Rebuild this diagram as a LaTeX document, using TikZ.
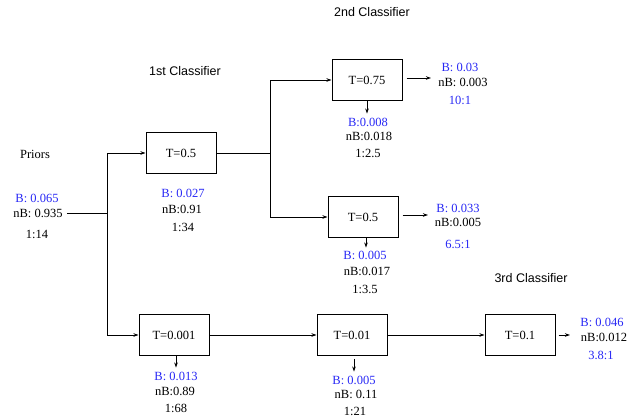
\documentclass[tikz,border=0pt]{standalone}
\usepackage{fontspec}
\setmainfont{Liberation Serif}
\newfontfamily\headfont{Liberation Sans}
\usetikzlibrary{arrows.meta}
\definecolor{lblblue}{RGB}{40,40,245}
\begin{document}
\begin{tikzpicture}[x=1pt,y=-1pt,
  font=\fontsize{12.5}{15}\selectfont,
  box/.style={draw, line width=1pt, minimum width=70pt, minimum height=41pt, inner sep=0pt},
  conn/.style={line width=0.9pt},
  arr/.style={conn, -{Stealth[length=5pt,width=3.5pt]}},
  bl/.style={text=lblblue, inner sep=0pt},
  bk/.style={inner sep=0pt},
  head/.style={font=\headfont\fontsize{12.5}{15}\selectfont, inner sep=0pt}]
\useasboundingbox (0,0) rectangle (635,419);

% headings
\node[head] (h2) at (372,12) {2nd Classifier};
\node[head] (h1) at (185,71) {1st Classifier};
\node[head] (h3) at (531,278) {3rd Classifier};
\node[bk] (pri) at (35,154) {Priors};

% priors
\node[bl] (pB) at (37,198) {B: 0.065};
\node[bk] (pnB) at (38,213) {nB: 0.935};
\node[bk] (pR) at (37,234) {1:14};

% boxes
\node[box] (b1) at (181,153) {T=0.5};
\node[box] (b2) at (367,80) {T=0.75};
\node[box] (b3) at (363,217) {T=0.5};
\node[box] (b4) at (174,335) {T=0.001};
\node[box] (b5) at (352,335) {T=0.01};
\node[box] (b6) at (520,335) {T=0.1};

% b1 labels
\node[bl] (l1B) at (183,193) {B: 0.027};
\node[bk] (l1n) at (182,209) {nB:0.91};
\node[bk] (l1r) at (183,227) {1:34};

% b2 labels
\node[bl] (l2B) at (368,122) {B:0.008};
\node[bk] (l2n) at (369,136) {nB:0.018};
\node[bk] (l2r) at (368,153) {1:2.5};
\node[bl] (r2B) at (460,67) {B: 0.03};
\node[bk] (r2n) at (463,82) {nB: 0.003};
\node[bl] (r2r) at (460,100) {10:1};

% b3 labels
\node[bl] (l3B) at (365,255) {B: 0.005};
\node[bk] (l3n) at (367,271) {nB:0.017};
\node[bk] (l3r) at (365,289) {1:3.5};
\node[bl] (r3B) at (458,208) {B: 0.033};
\node[bk] (r3n) at (458,222) {nB:0.005};
\node[bl] (r3r) at (458,244) {6.5:1};

% b4 labels
\node[bl] (l4B) at (176,376) {B: 0.013};
\node[bk] (l4n) at (175,391) {nB:0.89};
\node[bk] (l4r) at (176,408) {1:68};

% b5 labels
\node[bl] (l5B) at (354,380) {B: 0.005};
\node[bk] (l5n) at (356,394) {nB: 0.11};
\node[bk] (l5r) at (355,411) {1:21};

% b6 labels
\node[bl] (r6B) at (602,322) {B: 0.046};
\node[bk] (r6n) at (604,337) {nB:0.012};
\node[bl] (r6r) at (601,355) {3.8:1};

% junctions
\coordinate (j0) at (107,213);
\coordinate (j1) at (270,153);
\coordinate (e2) at (431,78);
\coordinate (e3) at (428,215);
\coordinate (e6) at (570,335);

% connectors
\draw[conn] ([xshift=4pt]pnB.east) -- (j0);
\draw[arr] (j0) |- (b1.west);
\draw[arr] (j0) |- (b4.west);
\draw[conn] (b1.east) -- (j1);
\draw[arr] (j1) |- (b2.west);
\draw[arr] (j1) |- (b3.west);
\draw[arr] ([xshift=4pt]b2.east |- e2) -- (e2);
\draw[arr] ([xshift=4pt]b3.east |- e3) -- (e3);
\draw[arr] (b2.south) -- ([yshift=4pt]b2.south |- l2B.north);
\draw[arr] ([xshift=3pt]b3.south) -- ([xshift=3pt,yshift=3pt]b3.south |- l3B.north);
\draw[arr] ([xshift=2pt]b4.south) -- ([xshift=2pt,yshift=4pt]b4.south |- l4B.north);
\draw[arr] ([xshift=2pt,yshift=-3pt]b5.south) -- ([xshift=2pt,yshift=4pt]b5.south |- l5B.north);
\draw[arr] (b4.east) -- (b5.west);
\draw[arr] (b5.east) -- (b6.west);
\draw[arr] ([xshift=3pt]b6.east) -- (e6);
\end{tikzpicture}
\end{document}
